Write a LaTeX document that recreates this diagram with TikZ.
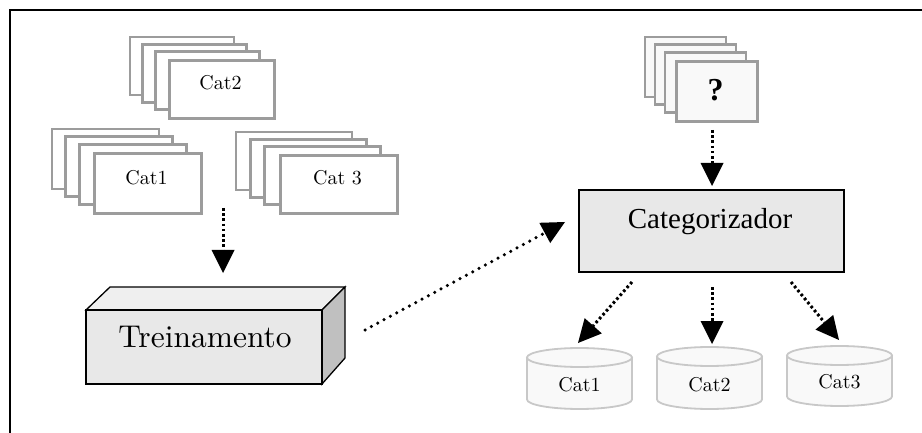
\documentclass[tikz,border=0pt]{standalone}
\usepackage{fontspec}
\setmainfont{lmroman10-regular.otf}[BoldFont=lmroman10-bold.otf]
\newfontfamily\timesfont{Liberation Serif}
\usetikzlibrary{arrows.meta}

\definecolor{pagegray}{HTML}{9C9C9C}
\definecolor{qfill}{HTML}{F9F9F9}
\definecolor{boxfill}{HTML}{E8E8E8}
\definecolor{topfill}{HTML}{EFEFEF}
\definecolor{sidefill}{HTML}{C0C0C0}
\definecolor{cylline}{HTML}{C8C8C8}
\definecolor{cylfill}{HTML}{F9F9F9}

\tikzset{
  sheet/.style={draw=pagegray, line width=2.9pt, fill=white},
  frontsheet/.style={sheet, inner sep=0pt, anchor=north west},
  catlbl/.style={font=\fontsize{20}{24}\selectfont, inner sep=0pt, anchor=base},
  solidbox/.style={draw=black, line width=1.3pt, line join=miter, inner sep=0pt},
  drumline/.style={draw=cylline, line width=1.8pt, fill=cylfill},
  tip/.style={-{Triangle[width=23pt,length=23pt,line width=0pt]}},
  dotarrow/.style={tip, line width=3pt, dash pattern=on 2.6pt off 2.6pt},
  finedots/.style={tip, line width=3.5pt, line cap=round, dash pattern=on 0pt off 7.2pt},
}

% a cylinder: left x, right x, centre of top rim, centre of bottom rim
\newcommand\drum[4]{%
  \path[drumline] (#1,#3) -- (#1,#4)
    arc[start angle=180, end angle=0, x radius={(#2-#1)/2}, y radius=9.5]
    -- (#2,#3) -- cycle;
  \draw[drumline] ({(#1+#2)/2},#3) ellipse [x radius={(#2-#1)/2}, y radius=9.5];
}

\begin{document}
\begin{tikzpicture}[x=1pt, y=-1pt]
\useasboundingbox (0,0) rectangle (922,433);

% frame
\draw[line width=2pt] (10,433) -- (10,10) -- (922,10);

% training stacks
\foreach \k in {0,1,2}
  \draw[sheet] (130+12.7*\k, 37+7.3*\k) rectangle ++(104,58);
\node[frontsheet, minimum width=105pt, minimum height=58pt] (s2) at (168,59) {};
\node[catlbl] (s2t) at (220.5,90) {Cat2};

\foreach \k in {0,1,2}
  \draw[sheet] (52+13.7*\k, 129+7.7*\k) rectangle ++(107,60);
\node[frontsheet, minimum width=107pt, minimum height=60pt] (s1) at (93,152) {};
\node[catlbl] (s1t) at (146.5,185) {Cat1};

\foreach \k in {0,1,2}
  \draw[sheet] (236+14.3*\k, 132+7.3*\k) rectangle ++(116,58);
\node[frontsheet, minimum width=117pt, minimum height=58pt] (s3) at (279,154) {};
\node[catlbl] (s3t) at (337.5,185) {Cat 3};

% unknown documents
\foreach \k in {0,1,2}
  \draw[sheet, fill=qfill] (645+10*\k, 37+7.7*\k) rectangle ++(81,60);
\node[frontsheet, fill=qfill, minimum width=81pt, minimum height=60pt] (q) at (675,60) {};
\node[inner sep=0pt, anchor=base, font=\timesfont\bfseries\fontsize{32}{36}\selectfont] (qt) at (715.5,101) {?};

% training block
\path[solidbox, fill=topfill] (86,310) -- (110,287) -- (345,287) -- (322,310) -- cycle;
\path[solidbox, fill=sidefill] (322,310) -- (345,287) -- (345,358) -- (322,384) -- cycle;
\node[solidbox, fill=boxfill, minimum width=236pt, minimum height=74pt] (train) at (204,347) {};
\node[inner sep=0pt, anchor=base, font=\fontsize{31.5}{36}\selectfont] (traint) at (205,347) {Treinamento};

% classifier
\node[solidbox, fill=boxfill, minimum width=265pt, minimum height=82pt] (cls) at (711.5,231) {};
\node[inner sep=0pt, anchor=base, font=\timesfont\fontsize{29}{34}\selectfont] (clst) at (710,229) {Categorizador};

% output categories
\drum{527}{632}{357.5}{399.5}
\node[catlbl] (d1) at (579.5,391) {Cat1};
\drum{657}{762}{356.5}{399.5}
\node[catlbl] (d2) at (709.5,391) {Cat2};
\drum{787}{892}{355.5}{396.5}
\node[catlbl] (d3) at (839.5,388) {Cat3};

% connector ends
\coordinate (stackout) at (223,208);
\coordinate (trainin) at (223,273);
\coordinate (qout) at (712,130);
\coordinate (clsin) at (712,186);
\coordinate (trainout) at (365,330);
\coordinate (clsleft) at (565,222);
\coordinate (o1) at (632,282);
\coordinate (i1) at (578,343);
\coordinate (o2) at (712,287);
\coordinate (i2) at (712,344);
\coordinate (o3) at (791,282);
\coordinate (i3) at (839,340);

\draw[dotarrow] (stackout) -- (trainin);
\draw[dotarrow] (qout) -- (clsin);
\draw[finedots] (trainout) -- (clsleft);
\draw[dotarrow] (o1) -- (i1);
\draw[dotarrow] (o2) -- (i2);
\draw[dotarrow] (o3) -- (i3);
\end{tikzpicture}
\end{document}
